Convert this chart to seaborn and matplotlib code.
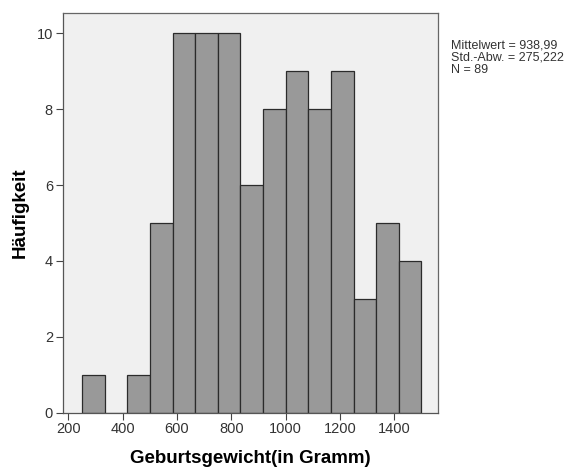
#!/usr/bin/env python3
import matplotlib.pyplot as plt
import numpy as np
import seaborn as sns
import pandas as pd

# histogram of birth weights, 15 bins from 250 to 1500 g
bin_edges = list(np.linspace(250, 1500, 16))
counts = [1, 0, 1, 5, 10, 10, 10, 6, 8, 9, 8, 9, 3, 5, 4]
x_ticks = [200, 400, 600, 800, 1000, 1200, 1400]
y_ticks = [0, 2, 4, 6, 8, 10]
stats_text = "Mittelwert = 938,99\nStd.-Abw. = 275,222\nN = 89"

centers = [(a + b) / 2 for a, b in zip(bin_edges[:-1], bin_edges[1:])]
df = pd.DataFrame({"gewicht": centers, "n": counts})

sns.set_style("white")
plt.rcParams["font.family"] = ["Liberation Sans", "DejaVu Sans"]

fig = plt.figure(figsize=(5.84, 4.70), dpi=100)
ax = fig.add_axes([0.1074, 0.1219, 0.6426, 0.8498])
ax.set_facecolor("#f0f0f0")

sns.histplot(data=df, x="gewicht", weights="n", bins=bin_edges, ax=ax,
             color="#999999", edgecolor="#2b2b2b", linewidth=0.9, alpha=1)

ax.set_xlim(179, 1561)
ax.set_ylim(0, 10.53)
ax.set_xticks(x_ticks)
ax.set_yticks(y_ticks)
ax.tick_params(axis="both", direction="out", length=5, width=0.8,
               bottom=True, left=True,
               color="#444444", labelsize=10.5, labelcolor="#333333", pad=2)
for s in ax.spines.values():
    s.set_color("#666666")
    s.set_linewidth(0.9)
ax.spines["left"].set_color("#555555")
ax.spines["bottom"].set_color("#555555")

ax.set_xlabel("Geburtsgewicht(in Gramm)", fontsize=13.5, fontweight="bold",
              labelpad=10, color="black")
ax.set_ylabel("Häufigkeit", fontsize=13.5, fontweight="bold",
              labelpad=6, color="black")

fig.text(451 / 584, 1 - 40 / 470, stats_text, fontsize=9, color="#333333",
         va="top", ha="left", linespacing=1.0)

fig.savefig("out.png", dpi=100)
